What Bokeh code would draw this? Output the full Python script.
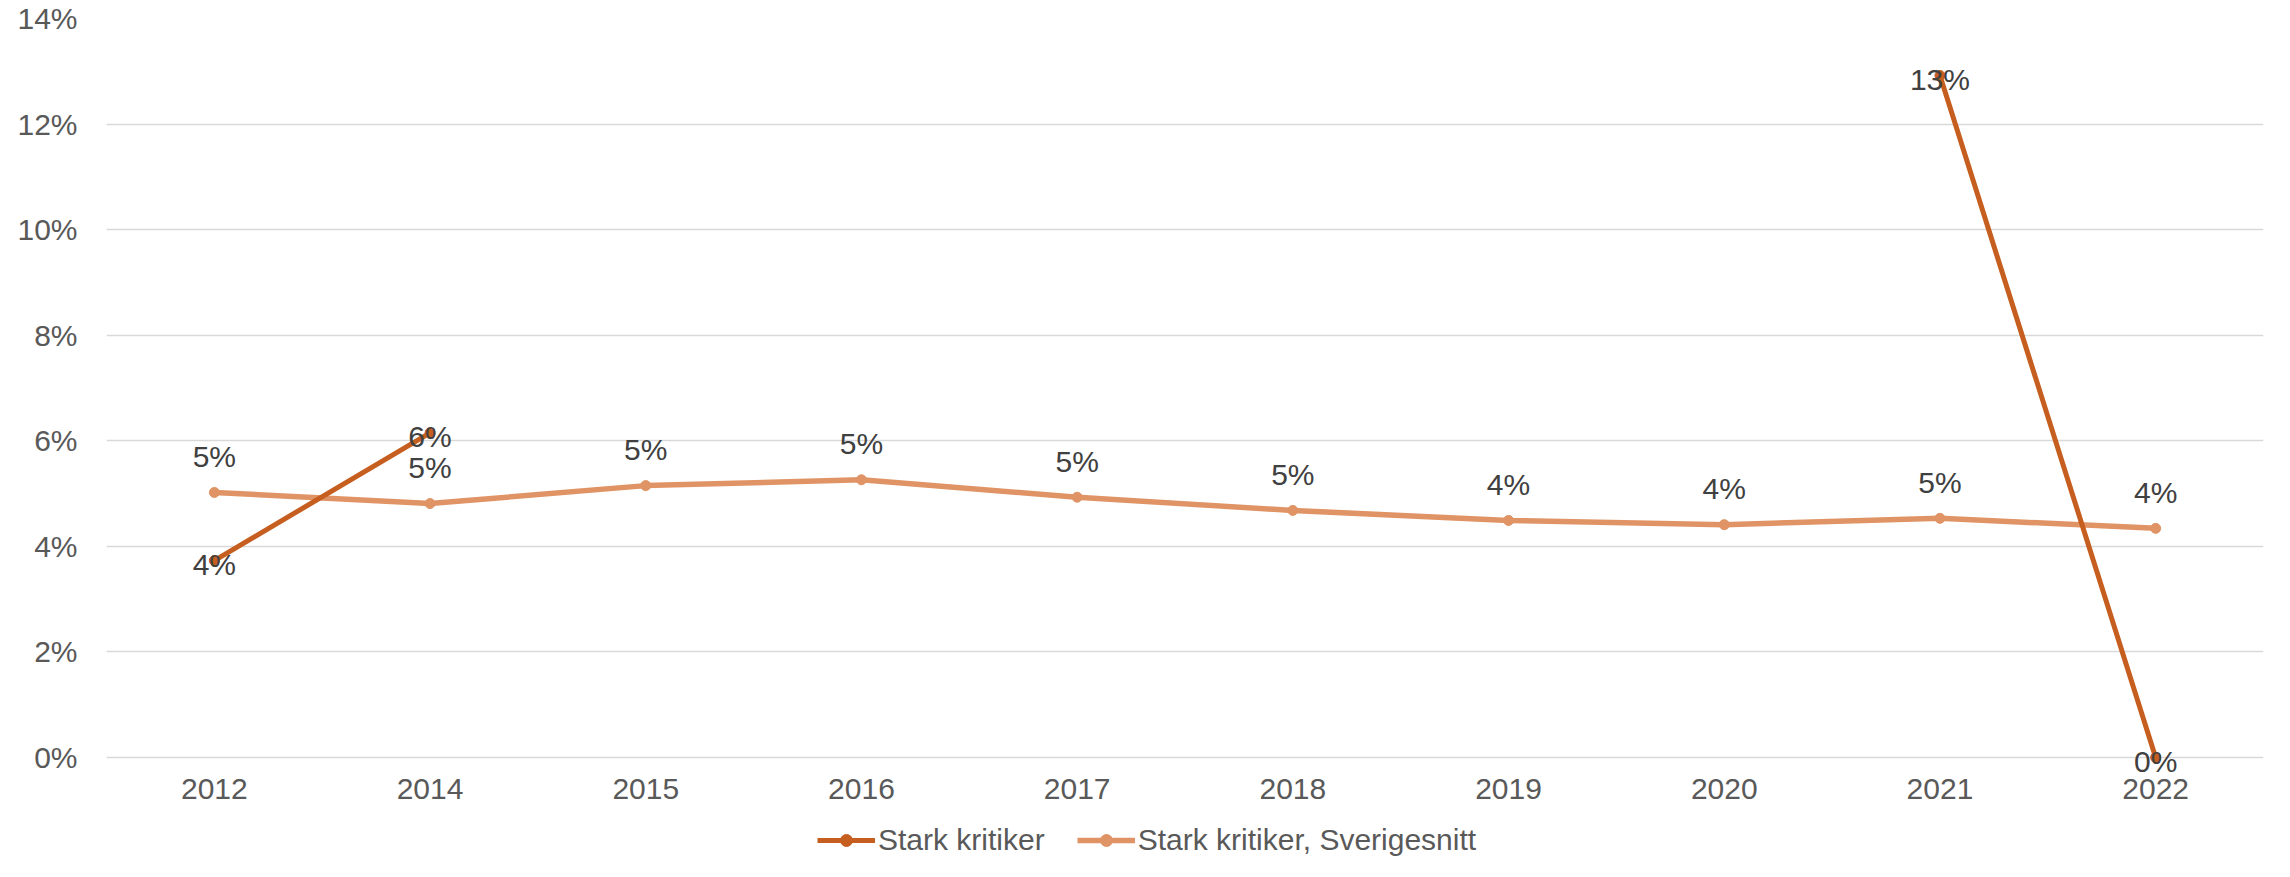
import math
from bokeh.plotting import figure
from bokeh.layouts import column
from bokeh.models import (ColumnDataSource, FactorRange, Range1d, NumeralTickFormatter,
                          FixedTicker, Legend, LegendItem)
from bokeh.core.properties import value
from bokeh.embed import file_html
from bokeh.resources import INLINE

# ---- data ----
years = ["2012", "2014", "2015", "2016", "2017", "2018", "2019", "2020", "2021", "2022"]
stark_kritiker = [0.0373, 0.0615, math.nan, math.nan, math.nan, math.nan, math.nan, math.nan, 0.1292, 0.0]
sverigesnitt = [0.0502, 0.0481, 0.0515, 0.0526, 0.0493, 0.0468, 0.0449, 0.0441, 0.0453, 0.0434]
series_names = ["Stark kritiker", "Stark kritiker, Sverigesnitt"]
y_ticks = [0.0, 0.02, 0.04, 0.06, 0.08, 0.10, 0.12, 0.14]

FONT = "Liberation Sans"
DARK = "#C65E1F"
LIGHT = "#E09465"
TEXT = "#595959"
LABEL = "#404040"

def pct(v):
    return f"{int(round(v * 100))}%"

src_dark = ColumnDataSource(dict(x=years, y=stark_kritiker))
src_light = ColumnDataSource(dict(x=years, y=sverigesnitt, lab=[pct(v) for v in sverigesnitt]))
dk = [(x, y) for x, y in zip(years, stark_kritiker) if not math.isnan(y)]
src_dark_lab = ColumnDataSource(dict(x=[d[0] for d in dk], y=[d[1] for d in dk],
                                     lab=[pct(d[1]) for d in dk]))

W = 2274
p = figure(width=W, height=816, x_range=FactorRange(*years, range_padding=0),
           y_range=Range1d(-0.0038, 0.14), output_backend="svg", toolbar_location=None,
           min_border_left=106, min_border_right=11, min_border_top=18, min_border_bottom=39)
p.outline_line_color = None
p.background_fill_color = "white"
p.border_fill_color = "white"

# axes
p.yaxis.ticker = FixedTicker(ticks=y_ticks)
p.yaxis.formatter = NumeralTickFormatter(format="0%")
for ax in (p.xaxis[0], p.yaxis[0]):
    ax.axis_line_color = None
    ax.major_tick_line_color = None
    ax.minor_tick_line_color = None
    ax.major_tick_out = 0
    ax.major_tick_in = 0
    ax.major_label_text_font = FONT
    ax.major_label_text_font_size = "30px"
    ax.major_label_text_color = TEXT
p.yaxis.major_label_standoff = 29
p.xaxis.major_label_standoff = 1

p.xgrid.grid_line_color = None
p.ygrid.grid_line_color = "#D9D9D9"
p.ygrid.grid_line_width = 1.5
p.ygrid.ticker = FixedTicker(ticks=y_ticks)

# series
l_light = p.line("x", "y", source=src_light, line_color=LIGHT, line_width=5.5)
m_light = p.scatter("x", "y", source=src_light, size=10, fill_color=LIGHT, line_color=LIGHT)
l_dark = p.line("x", "y", source=src_dark, line_color=DARK, line_width=5)
m_dark = p.scatter("x", "y", source=src_dark, size=10, fill_color=DARK, line_color=DARK)

# data labels
p.text("x", "y", text="lab", source=src_light, text_font=value(FONT), text_font_size="30px",
       text_color=LABEL, text_align="center", text_baseline="middle", y_offset=-36)
p.text("x", "y", text="lab", source=src_dark_lab, text_font=value(FONT), text_font_size="30px",
       text_color=LABEL, text_align="center", text_baseline="middle", y_offset=4)

# legend strip below the chart (its frame is aligned with the chart frame)
lg = figure(width=W, height=45, x_range=Range1d(0, 1), y_range=Range1d(0, 1),
            output_backend="svg", toolbar_location=None, min_border=0)
lg.outline_line_color = None
lg.axis.visible = False
lg.grid.visible = False
off = ColumnDataSource(dict(x=[-5, -4], y=[-5, -5]))  # outside the visible range
g1 = lg.line("x", "y", source=off, line_color=DARK, line_width=5)
g1m = lg.scatter("x", "y", source=off, size=10, fill_color=DARK, line_color=DARK)
g2 = lg.line("x", "y", source=off, line_color=LIGHT, line_width=5.5)
g2m = lg.scatter("x", "y", source=off, size=10, fill_color=LIGHT, line_color=LIGHT)
legend = Legend(items=[LegendItem(label=series_names[0], renderers=[g1, g1m]),
                       LegendItem(label=series_names[1], renderers=[g2, g2m])],
                orientation="horizontal", location=(711, 4),
                label_text_font=FONT, label_text_font_size="30px", label_text_color=TEXT,
                glyph_width=58, glyph_height=30, label_standoff=3, spacing=32,
                padding=0, margin=0, border_line_color=None, background_fill_alpha=0)
lg.add_layout(legend, "center")

open("out.html", "w").write(file_html(column(p, lg, spacing=0), INLINE))
